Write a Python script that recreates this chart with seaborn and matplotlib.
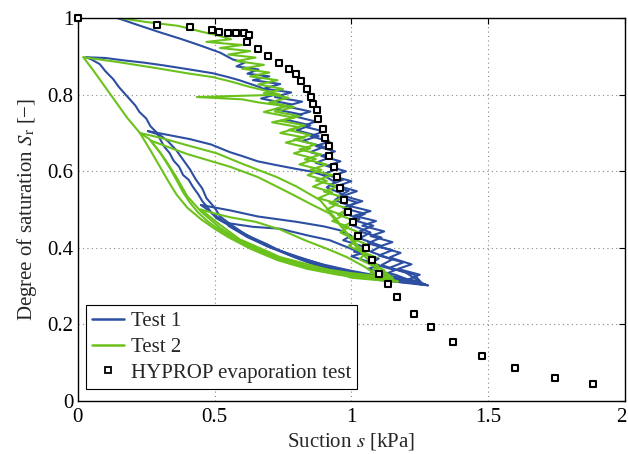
import matplotlib
matplotlib.use("Agg")
import matplotlib.pyplot as plt
import matplotlib.transforms as mtransforms
from matplotlib.lines import Line2D
import seaborn as sns
import pandas as pd

# ---------------- data ----------------
# HYPROP evaporation test points
hyprop_s = [0.0, 0.289, 0.41, 0.49, 0.517, 0.55, 0.579, 0.606, 0.626, 0.62, 0.659, 0.696,
            0.736, 0.773, 0.796, 0.815, 0.837, 0.854, 0.858, 0.875, 0.879, 0.895, 0.902,
            0.918, 0.919, 0.935, 0.948, 0.959, 0.974, 0.987, 1.005, 1.025, 1.052, 1.076,
            1.102, 1.135, 1.167, 1.228, 1.29, 1.371, 1.476, 1.598, 1.746, 1.884]
hyprop_sr = [1.0, 0.982, 0.976, 0.968, 0.963, 0.961, 0.96, 0.96, 0.956, 0.939, 0.92, 0.902,
             0.884, 0.868, 0.854, 0.836, 0.816, 0.794, 0.776, 0.759, 0.736, 0.71, 0.687,
             0.665, 0.64, 0.61, 0.585, 0.557, 0.524, 0.493, 0.467, 0.432, 0.399, 0.368,
             0.333, 0.305, 0.272, 0.228, 0.193, 0.154, 0.118, 0.086, 0.061, 0.045]

# Test 1 (blue) path segments: (suction, degree of saturation)
t1_dry_main = [(0.146, 1.000), (0.22, 0.982), (0.30, 0.963), (0.38, 0.945), (0.45, 0.928),
               (0.52, 0.910), (0.567, 0.892), (0.61, 0.884), (0.58, 0.874), (0.66, 0.866),
               (0.62, 0.855), (0.70, 0.848), (0.64, 0.838), (0.74, 0.828), (0.68, 0.816),
               (0.78, 0.806), (0.72, 0.794), (0.82, 0.782), (0.76, 0.770), (0.85, 0.756),
               (0.79, 0.744), (0.87, 0.730), (0.82, 0.718), (0.90, 0.704), (0.85, 0.692),
               (0.92, 0.678), (0.87, 0.666), (0.94, 0.652), (0.89, 0.640), (0.96, 0.626),
               (0.91, 0.614), (0.98, 0.600), (0.93, 0.588), (1.00, 0.574), (0.95, 0.562),
               (1.02, 0.548), (0.97, 0.536), (1.04, 0.522), (0.99, 0.510), (1.07, 0.496),
               (1.01, 0.484), (1.09, 0.470), (1.04, 0.458), (1.12, 0.443), (1.07, 0.431),
               (1.15, 0.415), (1.10, 0.403), (1.18, 0.387), (1.14, 0.375), (1.22, 0.357),
               (1.17, 0.345), (1.25, 0.330), (1.21, 0.318), (1.28, 0.302)]
t1_wet_main = [(1.28, 0.302), (1.18, 0.310), (1.08, 0.322), (0.98, 0.335), (0.88, 0.352),
               (0.79, 0.376), (0.74, 0.392), (0.69, 0.410), (0.64, 0.426), (0.60, 0.440),
               (0.565, 0.452), (0.545, 0.462), (0.51, 0.476), (0.49, 0.490), (0.475, 0.505),
               (0.455, 0.522), (0.44, 0.540), (0.42, 0.560), (0.405, 0.578), (0.385, 0.590),
               (0.37, 0.612), (0.35, 0.628), (0.335, 0.648), (0.315, 0.665), (0.30, 0.685),
               (0.29, 0.700), (0.265, 0.718), (0.25, 0.738), (0.225, 0.755), (0.21, 0.772),
               (0.19, 0.788), (0.175, 0.800), (0.15, 0.820), (0.13, 0.840), (0.10, 0.862),
               (0.08, 0.880), (0.05, 0.892), (0.03, 0.898)]
t1_dry_scan1 = [(0.03, 0.898), (0.10, 0.896), (0.165, 0.890), (0.24, 0.884), (0.31, 0.877),
                (0.40, 0.867), (0.494, 0.856), (0.55, 0.846), (0.59, 0.838), (0.665, 0.820),
                (0.72, 0.800), (0.67, 0.790), (0.78, 0.775), (0.72, 0.762), (0.82, 0.748),
                (0.76, 0.735), (0.85, 0.720), (0.80, 0.707), (0.88, 0.692), (0.82, 0.679),
                (0.90, 0.664), (0.85, 0.650), (0.92, 0.636), (0.87, 0.622), (0.95, 0.607),
                (0.90, 0.593), (0.97, 0.578), (0.92, 0.564), (0.99, 0.549), (0.95, 0.534),
                (1.02, 0.519), (0.97, 0.504), (1.05, 0.489), (1.00, 0.474), (1.08, 0.458),
                (1.03, 0.443), (1.11, 0.427), (1.06, 0.412), (1.15, 0.394), (1.10, 0.380),
                (1.19, 0.362), (1.14, 0.348), (1.23, 0.330), (1.26, 0.306)]
t1_wet2 = [(1.26, 0.306), (1.16, 0.318), (1.05, 0.330), (0.95, 0.342), (0.86, 0.360),
           (0.77, 0.382), (0.69, 0.405), (0.62, 0.432), (0.565, 0.458), (0.52, 0.482),
           (0.50, 0.505), (0.47, 0.530), (0.455, 0.555), (0.43, 0.580), (0.41, 0.605),
           (0.385, 0.630), (0.36, 0.655), (0.33, 0.678), (0.30, 0.695), (0.256, 0.705)]
t1_dry_scan2 = [(0.256, 0.705), (0.33, 0.695), (0.41, 0.684), (0.487, 0.670), (0.556, 0.650),
                (0.60, 0.640), (0.658, 0.626), (0.727, 0.616), (0.80, 0.606), (0.85, 0.600),
                (0.896, 0.590), (0.94, 0.572), (0.91, 0.558), (0.97, 0.540), (0.94, 0.525),
                (1.00, 0.508), (0.97, 0.492), (1.03, 0.475), (1.00, 0.460), (1.07, 0.440),
                (1.03, 0.425), (1.11, 0.405), (1.07, 0.390), (1.15, 0.370), (1.11, 0.355),
                (1.20, 0.335), (1.25, 0.312)]
t1_wet3 = [(1.25, 0.312), (1.12, 0.324), (1.00, 0.340), (0.90, 0.356), (0.80, 0.376),
           (0.72, 0.398), (0.65, 0.420), (0.58, 0.447), (0.53, 0.470), (0.49, 0.492),
           (0.45, 0.512)]
t1_dry_scan3 = [(0.45, 0.512), (0.556, 0.498), (0.658, 0.482), (0.80, 0.468), (0.90, 0.456),
                (0.958, 0.446), (1.00, 0.432), (0.97, 0.420), (1.05, 0.402), (1.01, 0.390),
                (1.10, 0.372), (1.07, 0.360), (1.16, 0.342), (1.12, 0.330), (1.22, 0.316),
                (1.27, 0.305)]
t1_wet4 = [(1.27, 0.305), (1.10, 0.316), (0.92, 0.350), (0.80, 0.378), (0.70, 0.402),
           (0.62, 0.428), (0.55, 0.458)]
t1_dry_scan4 = [(0.545, 0.465), (0.64, 0.455), (0.739, 0.450), (0.837, 0.433), (0.921, 0.420),
                (1.04, 0.386), (1.00, 0.378), (1.10, 0.355), (1.06, 0.345), (1.16, 0.330),
                (1.258, 0.303)]

# Test 2 (green) path segments
t2_dry_main = [(0.157, 1.000), (0.25, 0.990), (0.366, 0.980), (0.45, 0.965), (0.51, 0.955),
               (0.56, 0.945), (0.47, 0.938), (0.60, 0.930), (0.52, 0.922), (0.63, 0.914),
               (0.55, 0.905), (0.65, 0.897), (0.58, 0.888), (0.68, 0.878), (0.60, 0.868),
               (0.70, 0.858), (0.63, 0.848), (0.73, 0.838), (0.66, 0.827), (0.75, 0.815),
               (0.68, 0.804), (0.77, 0.792), (0.70, 0.780), (0.79, 0.768), (0.72, 0.756),
               (0.81, 0.744), (0.74, 0.732), (0.83, 0.720), (0.77, 0.708), (0.85, 0.695),
               (0.79, 0.683), (0.87, 0.670), (0.81, 0.657), (0.89, 0.644), (0.83, 0.631),
               (0.91, 0.618), (0.85, 0.604), (0.93, 0.590), (0.87, 0.576), (0.95, 0.561),
               (0.90, 0.547), (0.97, 0.532), (0.92, 0.517), (0.99, 0.502), (0.95, 0.487),
               (1.01, 0.471), (0.97, 0.456), (1.03, 0.440), (1.00, 0.425), (1.06, 0.408),
               (1.03, 0.393), (1.09, 0.375), (1.06, 0.360), (1.12, 0.342), (1.10, 0.330),
               (1.17, 0.312)]
t2_wet_main = [(1.17, 0.312), (1.05, 0.320), (0.95, 0.330), (0.84, 0.345), (0.73, 0.368),
               (0.63, 0.398), (0.55, 0.428), (0.50, 0.450), (0.45, 0.475), (0.40, 0.505),
               (0.36, 0.540), (0.33, 0.575), (0.30, 0.612), (0.265, 0.655), (0.227, 0.700),
               (0.18, 0.740), (0.14, 0.780), (0.10, 0.820), (0.06, 0.860), (0.02, 0.898)]
t2_dry_scan1 = [(0.02, 0.898), (0.15, 0.885), (0.30, 0.868), (0.40, 0.856), (0.494, 0.846),
                (0.567, 0.833), (0.62, 0.822), (0.69, 0.810), (0.74, 0.800), (0.435, 0.794),
                (0.60, 0.788), (0.66, 0.780), (0.76, 0.770), (0.68, 0.755), (0.79, 0.740),
                (0.71, 0.728), (0.81, 0.715), (0.74, 0.700), (0.83, 0.688), (0.76, 0.675),
                (0.85, 0.660), (0.79, 0.647), (0.87, 0.632), (0.81, 0.618), (0.89, 0.604),
                (0.84, 0.590), (0.91, 0.575), (0.86, 0.560), (0.93, 0.545), (0.88, 0.530),
                (0.95, 0.515), (0.91, 0.500), (0.97, 0.485), (0.93, 0.470), (0.99, 0.455),
                (0.96, 0.440), (1.02, 0.420), (0.99, 0.405), (1.05, 0.385), (1.03, 0.370),
                (1.09, 0.350), (1.07, 0.335), (1.14, 0.318)]
t2_wet2 = [(1.14, 0.318), (1.02, 0.326), (0.90, 0.338), (0.78, 0.358), (0.68, 0.384),
           (0.60, 0.412), (0.53, 0.442), (0.48, 0.466), (0.44, 0.492), (0.41, 0.518),
           (0.385, 0.545), (0.36, 0.578), (0.335, 0.610), (0.30, 0.650), (0.26, 0.685),
           (0.227, 0.700)]
t2_dry_scanA = [(0.227, 0.700), (0.30, 0.688), (0.40, 0.668), (0.508, 0.647), (0.60, 0.620),
                (0.727, 0.585), (0.80, 0.560), (0.885, 0.525), (0.95, 0.470), (1.02, 0.400),
                (1.10, 0.340), (1.15, 0.320)]
t2_wet3 = [(1.15, 0.320), (1.00, 0.330), (0.86, 0.345), (0.72, 0.375), (0.61, 0.410),
           (0.52, 0.452), (0.45, 0.495), (0.40, 0.535), (0.36, 0.585), (0.32, 0.630),
           (0.267, 0.680)]
t2_dry_scanB = [(0.267, 0.680), (0.40, 0.645), (0.556, 0.612), (0.658, 0.585), (0.775, 0.543),
                (0.85, 0.515), (0.92, 0.490), (0.97, 0.450), (1.03, 0.400), (1.10, 0.350),
                (1.15, 0.322)]
t2_wet4 = [(1.15, 0.322), (1.00, 0.334), (0.85, 0.350), (0.72, 0.378), (0.60, 0.418),
           (0.52, 0.460), (0.45, 0.500)]
t2_dry_scan3 = [(0.45, 0.500), (0.50, 0.490), (0.556, 0.480), (0.65, 0.468), (0.74, 0.448),
                (0.83, 0.420), (0.92, 0.395), (0.983, 0.376), (1.05, 0.350), (1.104, 0.324),
                (1.16, 0.312)]
t2_wet5 = [(1.16, 0.312), (1.00, 0.322), (0.92, 0.342), (0.739, 0.376), (0.60, 0.420)]

test1_segments = [t1_dry_main, t1_wet_main, t1_dry_scan1, t1_wet2, t1_dry_scan2,
                  t1_wet3, t1_dry_scan3, t1_wet4, t1_dry_scan4]
test2_segments = [t2_dry_main, t2_wet_main, t2_dry_scan1, t2_wet2, t2_dry_scanA,
                  t2_wet3, t2_dry_scanB, t2_wet4, t2_dry_scan3, t2_wet5]

series_names = ["Test 1", "Test 2", "HYPROP evaporation test"]
x_ticks = [0, 0.5, 1, 1.5, 2]
y_ticks = [0, 0.2, 0.4, 0.6, 0.8, 1]

# ---------------- build tables ----------------
def to_frame(segments, name):
    rows = []
    for seg_id, seg in enumerate(segments):
        for s, sr in seg:
            rows.append({"s": s, "sr": sr, "test": name, "seg": seg_id})
    return pd.DataFrame(rows)

df1 = to_frame(test1_segments, series_names[0])
df2 = to_frame(test2_segments, series_names[1])
df_h = pd.DataFrame({"s": hyprop_s, "sr": hyprop_sr})

# ---------------- plot ----------------
sns.set_style("white")
plt.rcParams["font.family"] = ["Liberation Serif", "DejaVu Serif"]
plt.rcParams["mathtext.fontset"] = "stix"

blue = "#2D4FA2"
green = "#6CC21C"

fig = plt.figure(figsize=(6.28, 4.54), dpi=100)
ax = fig.add_axes([0.124, 0.1167, 0.871, 0.8433])

sns.lineplot(data=df1, x="s", y="sr", units="seg", estimator=None, sort=False,
             color=blue, lw=1.5, ax=ax, legend=False)
sns.lineplot(data=df2, x="s", y="sr", units="seg", estimator=None, sort=False,
             color=green, lw=1.5, ax=ax, legend=False)
sns.scatterplot(data=df_h, x="s", y="sr", marker="s", s=20, facecolor="white",
                edgecolor="black", linewidth=1.5, ax=ax, legend=False, zorder=5,
                clip_on=False)

ax.set_xlim(0, 2)
ax.set_ylim(0, 1)
ax.set_xticks(x_ticks)
ax.set_yticks(y_ticks)
ax.set_xticklabels([f"{v:g}" for v in x_ticks])
ax.set_yticklabels([f"{v:g}" for v in y_ticks])
ax.tick_params(direction="in", length=4, labelsize=15, top=True, right=True,
               colors="black", width=0.8)
ax.tick_params(axis="x", pad=5)
ax.tick_params(axis="y", pad=3)
# keep the last x tick label inside the figure
last = ax.get_xticklabels()[-1]
last.set_transform(last.get_transform() +
                   mtransforms.ScaledTranslation(-4 / 100, 0, fig.dpi_scale_trans))
ax.grid(True, linestyle=(0, (1, 3)), color="#888888", linewidth=0.8)
for sp in ax.spines.values():
    sp.set_color("black")
    sp.set_linewidth(1.0)

ax.set_xlabel("Suction $s$ [kPa]", fontsize=15, labelpad=3)
ax.set_ylabel("Degree of saturation $S_\\mathrm{r}$ [\u2212]", fontsize=15, labelpad=6)

handles = [Line2D([], [], color=blue, lw=1.8),
           Line2D([], [], color=green, lw=1.8),
           Line2D([], [], ls="none", marker="s", markersize=4.5, markerfacecolor="white",
                  markeredgecolor="black", markeredgewidth=1.3)]
leg = ax.legend(handles, series_names, loc="lower left",
                bbox_to_anchor=(8 / 547, 12 / 383), borderaxespad=0,
                fontsize=15, frameon=True, fancybox=False, edgecolor="black",
                framealpha=1, handlelength=1.55, handletextpad=0.3, borderpad=0.3,
                labelspacing=0.3)
leg.get_frame().set_linewidth(0.8)

fig.savefig("out.png", dpi=100)
